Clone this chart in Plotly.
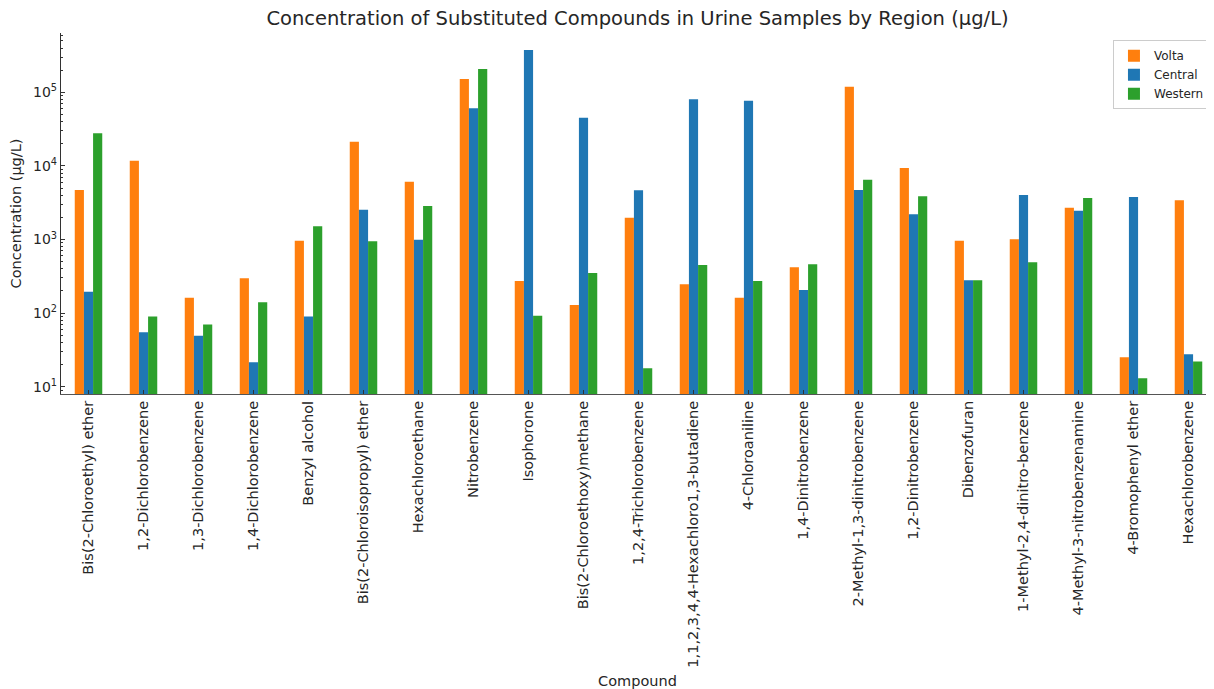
import plotly.graph_objects as go

compounds = [
    "Bis(2-Chloroethyl) ether", "1,2-Dichlorobenzene", "1,3-Dichlorobenzene",
    "1,4-Dichlorobenzene", "Benzyl alcohol", "Bis(2-Chloroisopropyl) ether",
    "Hexachloroethane", "Nitrobenzene", "Isophorone", "Bis(2-Chloroethoxy)methane",
    "1,2,4-Trichlorobenzene", "1,1,2,3,4,4-Hexachloro1,3-butadiene", "4-Chloroaniline",
    "1,4-Dinitrobenzene", "2-Methyl-1,3-dinitrobenzene", "1,2-Dinitrobenzene",
    "Dibenzofuran", "1-Methyl-2,4-dinitro-benzene", "4-Methyl-3-nitrobenzenamine",
    "4-Bromophenyl ether", "Hexachlorobenzene",
]
volta = [4700, 11700, 162, 297, 964, 21300, 6100, 151700, 273, 129, 1980,
         246, 162, 419, 119000, 9360, 964, 1007, 2700, 25, 3400]
central = [195, 55, 49, 21.4, 90, 2540, 993, 60700, 376000, 45200, 4660,
           80400, 76900, 206, 4700, 2200, 279, 4030, 2460, 3780, 27.6]
western = [27700, 90, 70, 140, 1510, 946, 2850, 207600, 92, 351, 17.8,
           451, 273, 460, 6500, 3860, 279, 490, 3660, 13, 21.9]

series_names = ["Volta", "Central", "Western"]
series_values = [volta, central, western]
series_colors = ["#ff7f0e", "#1f77b4", "#2ca02c"]

y_exponents = [1, 2, 3, 4, 5]
y_tickvals = [10 ** e for e in y_exponents]
y_ticktext = [f"10<sup>{e}</sup>" for e in y_exponents]

FONT = "DejaVu Sans"

fig = go.Figure()
for name, vals, col in zip(series_names, series_values, series_colors):
    fig.add_trace(go.Bar(
        x=compounds, y=vals, name=name,
        marker=dict(color=col, line=dict(width=0)),
    ))

# page body has an 8px margin, so the figure is offset by 8px
W, H = 1206, 681
L, R, T, B = 53, 0, 25, 295
plot_w = W - L - R

fig.update_layout(
    width=W, height=H,
    margin=dict(l=L, r=R, t=T, b=B, autoexpand=False),
    paper_bgcolor="white", plot_bgcolor="white",
    barmode="group", bargap=0.5, bargroupgap=0.0,
    font=dict(family=FONT, color="#262626"),
    title=dict(
        text="Concentration of Substituted Compounds in Urine Samples by Region (µg/L)",
        x=(L + plot_w / 2) / W, xanchor="center",
        y=1 - 10 / H, yanchor="middle", yref="container",
        font=dict(family=FONT, size=19.5, color="#262626"),
    ),
    legend=dict(
        x=0.9965, y=0.98, xanchor="right", yanchor="top",
        bgcolor="white", bordercolor="#cccccc", borderwidth=1,
        font=dict(family=FONT, size=12, color="#262626"),
    ),
    showlegend=True,
)

fig.update_xaxes(
    type="category",
    range=[-0.5, -0.5 + plot_w / 55.0],
    tickangle=-90,
    tickfont=dict(family=FONT, size=14.5, color="#262626"),
    ticks="inside", ticklen=4, tickcolor="#333333",
    showline=True, linecolor="#555555", linewidth=1.2,
    showgrid=False, zeroline=False, automargin=False,
    title=dict(text="Compound", standoff=9,
               font=dict(family=FONT, size=14.5, color="#262626")),
)

fig.update_yaxes(
    type="log",
    range=[0.9, 5.806],
    tickmode="array", tickvals=y_tickvals, ticktext=y_ticktext,
    tickfont=dict(family=FONT, size=14, color="#262626"),
    ticks="inside", ticklen=4, tickcolor="#333333",
    minor=dict(ticks="inside", ticklen=2, tickcolor="#333333", dtick="D1", showgrid=False),
    showline=True, linecolor="#333333", linewidth=1.2,
    showgrid=False, zeroline=False, automargin=False,
    title=dict(text="Concentration (µg/L)", standoff=16,
               font=dict(family=FONT, size=14.5, color="#262626")),
)

fig.write_html("out.html")
